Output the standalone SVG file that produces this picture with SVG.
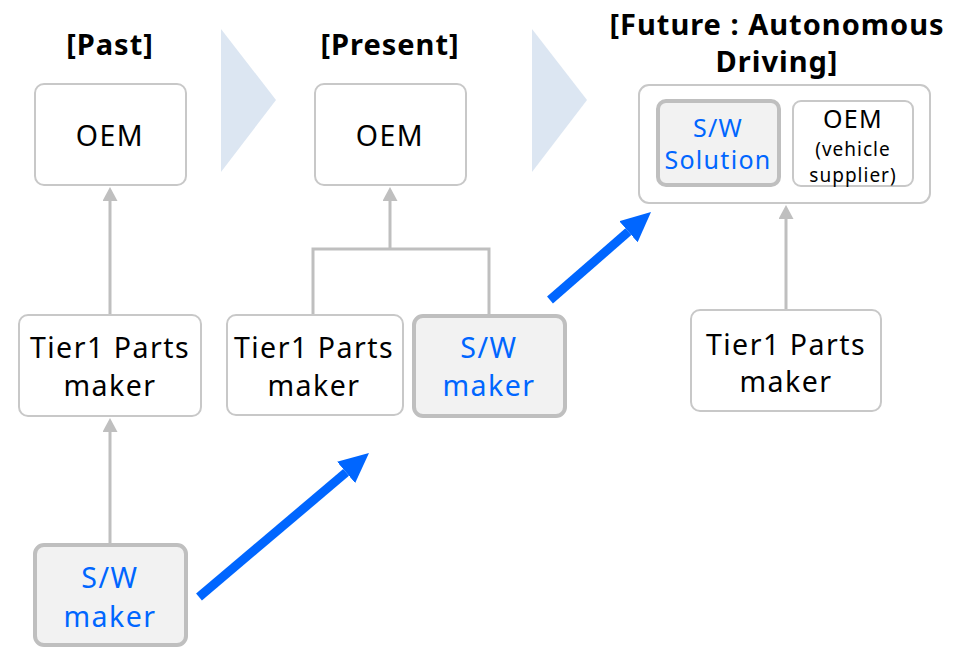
<svg xmlns="http://www.w3.org/2000/svg" width="959" height="648" viewBox="0 0 959 648">
<style>
  .title { font-family: "Noto Sans", "DejaVu Sans", sans-serif; font-weight: bold; font-size: 29px; letter-spacing: 1px; fill: #000; text-anchor: middle; }
  .lbl { font-family: "Noto Sans", "DejaVu Sans", sans-serif; font-size: 28.5px; letter-spacing: 1.5px; fill: #000; text-anchor: middle; }
  .mid { font-size: 25px; letter-spacing: 1.3px; }
  .sm { font-size: 19px; letter-spacing: 1px; }
  .blue { fill: #0066ff; }
  .box { fill: #ffffff; stroke: #c8c8c8; stroke-width: 2; }
  .sw { fill: #f2f2f2; stroke: #bfbfbf; stroke-width: 4; }
  .chev { fill: #dce6f2; }
  .gray { stroke: #bfbfbf; stroke-width: 3; fill: none; }
  .bl { stroke: #0066ff; stroke-width: 9; fill: none; }
</style>
<defs>
  <marker id="gh" markerUnits="userSpaceOnUse" viewBox="0 -7.5 14 15" markerWidth="14" markerHeight="15" refX="0" refY="0" orient="auto">
    <path d="M0,-7.5 L14,0 L0,7.5 Z" fill="#bfbfbf"/>
  </marker>
  <marker id="bh" markerUnits="userSpaceOnUse" viewBox="0 -14 30 28" markerWidth="30" markerHeight="28" refX="0" refY="0" orient="auto">
    <path d="M0,-14 L30,0 L0,14 Z" fill="#0066ff"/>
  </marker>
</defs>

<g id="titles">
  <text class="title" x="110" y="55">[Past]</text>
  <text class="title" x="390" y="55">[Present]</text>
  <text class="title" x="777" y="35">[Future : Autonomous</text>
  <text class="title" x="777" y="72">Driving]</text>
</g>

<g id="chevrons">
  <polygon class="chev" points="221,29 276,100 221,172"/>
  <polygon class="chev" points="532,29 587,100 532,172"/>
</g>

<g id="connectors">
  <line class="gray" x1="110" y1="315" x2="110" y2="201" marker-end="url(#gh)"/>
  <line class="gray" x1="110" y1="545" x2="110" y2="432" marker-end="url(#gh)"/>
  <polyline class="gray" points="313,315 313,249 489,249 489,316"/>
  <line class="gray" x1="390" y1="250" x2="390" y2="201" marker-end="url(#gh)"/>
  <line class="gray" x1="786" y1="310" x2="786" y2="219" marker-end="url(#gh)"/>
  <line class="bl" x1="199" y1="597" x2="346.1" y2="472.4" marker-end="url(#bh)"/>
  <line class="bl" x1="550" y1="300" x2="628.4" y2="231.7" marker-end="url(#bh)"/>
</g>

<g id="past-oem">
  <rect class="box" x="35" y="84" width="151" height="101" rx="9"/>
  <text class="lbl" x="110" y="146">OEM</text>
</g>
<g id="past-tier1">
  <rect class="box" x="19" y="315" width="182" height="101" rx="9"/>
  <text class="lbl" x="110" y="358">Tier1 Parts</text>
  <text class="lbl" x="110" y="396">maker</text>
</g>
<g id="past-sw">
  <rect class="sw" x="35" y="545" width="151" height="100" rx="9"/>
  <text class="lbl blue" x="110" y="588">S/W</text>
  <text class="lbl blue" x="110" y="627">maker</text>
</g>

<g id="present-oem">
  <rect class="box" x="315" y="84" width="151" height="101" rx="9"/>
  <text class="lbl" x="390" y="146">OEM</text>
</g>
<g id="present-tier1">
  <rect class="box" x="227" y="315" width="176" height="100" rx="9"/>
  <text class="lbl" x="314" y="358">Tier1 Parts</text>
  <text class="lbl" x="314" y="396">maker</text>
</g>
<g id="present-sw">
  <rect class="sw" x="414" y="316" width="151" height="100" rx="9"/>
  <text class="lbl blue" x="489" y="358">S/W</text>
  <text class="lbl blue" x="489" y="396">maker</text>
</g>

<g id="future-group">
  <rect class="box" x="639" y="85" width="291" height="118" rx="10"/>
</g>
<g id="future-sw">
  <rect class="sw" x="658" y="101" width="121" height="84" rx="8"/>
  <text class="lbl mid blue" x="718" y="137">S/W</text>
  <text class="lbl mid blue" x="718" y="169">Solution</text>
</g>
<g id="future-oem">
  <rect class="box" x="793" y="101" width="120" height="85" rx="8"/>
  <text class="lbl mid" x="853" y="128">OEM</text>
  <text class="lbl sm" x="853" y="156">(vehicle</text>
  <text class="lbl sm" x="853" y="182">supplier)</text>
</g>
<g id="future-tier1">
  <rect class="box" x="691" y="310" width="190" height="101" rx="9"/>
  <text class="lbl" x="786" y="355">Tier1 Parts</text>
  <text class="lbl" x="786" y="392">maker</text>
</g>
</svg>
